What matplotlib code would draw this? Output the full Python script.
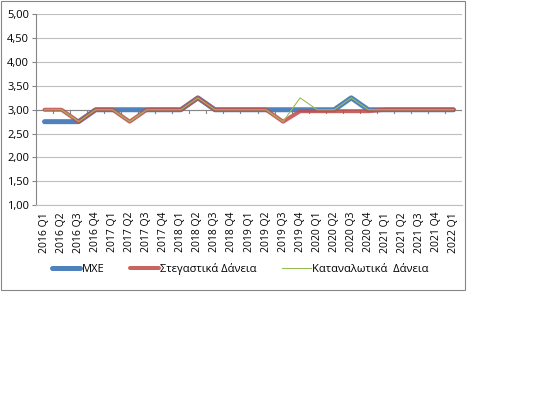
import matplotlib
matplotlib.use("Agg")
import matplotlib.pyplot as plt
from matplotlib.patches import Rectangle
from matplotlib.ticker import FuncFormatter, MultipleLocator

plt.rcParams['font.family'] = ['Open Sans', 'Noto Sans', 'DejaVu Sans']

quarters = ["2016 Q1", "2016 Q2", "2016 Q3", "2016 Q4",
            "2017 Q1", "2017 Q2", "2017 Q3", "2017 Q4",
            "2018 Q1", "2018 Q2", "2018 Q3", "2018 Q4",
            "2019 Q1", "2019 Q2", "2019 Q3", "2019 Q4",
            "2020 Q1", "2020 Q2", "2020 Q3", "2020 Q4",
            "2021 Q1", "2021 Q2", "2021 Q3", "2021 Q4",
            "2022 Q1"]

mxe = [2.75, 2.75, 2.75, 3.00, 3.00, 3.00, 3.00, 3.00, 3.00, 3.25, 3.00, 3.00,
       3.00, 3.00, 3.00, 3.00, 3.00, 3.00, 3.25, 3.00, 3.00, 3.00, 3.00, 3.00, 3.00]
housing = [3.00, 3.00, 2.75, 3.00, 3.00, 2.75, 3.00, 3.00, 3.00, 3.25, 3.00, 3.00,
           3.00, 3.00, 2.75, 2.97, 2.97, 2.97, 2.97, 2.97, 3.00, 3.00, 3.00, 3.00, 3.00]
consumer = [3.00, 3.00, 2.75, 3.00, 3.00, 2.75, 3.00, 3.00, 3.00, 3.25, 3.00, 3.00,
            3.00, 3.00, 2.75, 3.25, 3.00, 3.00, 3.25, 3.00, 3.00, 3.00, 3.00, 3.00, 3.00]

W, H = 550, 397
fig = plt.figure(figsize=(W / 100, H / 100), dpi=100)
ax = fig.add_axes([36 / W, 1 - 205 / H, (462 - 36) / W, (205 - 14.5) / H])

x = list(range(len(quarters)))
l1, = ax.plot(x, mxe, color="#4F81BD", lw=3.6, solid_capstyle="round", label="ΜΧΕ", zorder=3)
l2, = ax.plot(x, housing, color="#C0504D", lw=2.9, alpha=0.88, solid_capstyle="round",
              label="Στεγαστικά Δάνεια", zorder=4)
l3, = ax.plot(x, consumer, color="#9BBB59", lw=0.8, label="Καταναλωτικά  Δάνεια", zorder=5)

ax.set_xlim(-0.5, len(quarters) - 0.5)
ax.set_ylim(1.0, 5.0)
ax.yaxis.set_major_locator(MultipleLocator(0.5))
ax.yaxis.set_major_formatter(FuncFormatter(lambda v, p: f"{v:.2f}".replace(".", ",")))
ax.grid(axis="y", color="#BFBFBF", lw=0.8)
ax.set_axisbelow(True)

for s in ["top", "right"]:
    ax.spines[s].set_visible(False)
ax.spines["left"].set_color("#868686")
ax.spines["bottom"].set_color("#BFBFBF")

ax.set_xticks(x)
ax.set_xticklabels(quarters, rotation=90, fontsize=7.5)
ax.tick_params(axis="x", length=0, pad=5)
ax.tick_params(axis="y", labelsize=8, length=3, color="#868686", pad=2)
ax.axhline(3.0, color="#868686", lw=0.8, zorder=2)
for b in range(len(quarters) + 1):
    ax.plot([b - 0.5, b - 0.5], [3.0, 2.94], color="#868686", lw=0.8, zorder=2)

leg = fig.legend(handles=[l1, l2, l3], loc="center", bbox_to_anchor=(240 / W, 1 - 269 / H),
                 ncol=3, frameon=False, fontsize=8, handlelength=2.6, handletextpad=0.1,
                 columnspacing=2.3)

fig.patches.append(Rectangle((1 / W, 1 - 290 / H), 464 / W, 289 / H, transform=fig.transFigure,
                             fill=False, edgecolor="#868686", lw=0.8))

fig.savefig("out.png", dpi=100)
